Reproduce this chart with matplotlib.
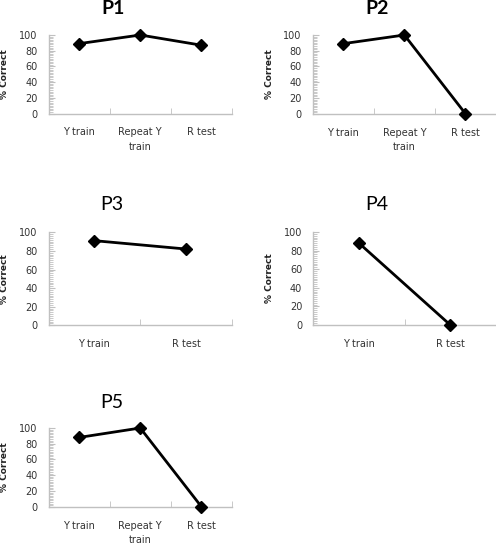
import matplotlib
matplotlib.use("Agg")
import matplotlib.pyplot as plt
from matplotlib.ticker import MultipleLocator, FixedLocator

# Data
cats3 = ["Y train", "Repeat Y\ntrain", "R test"]
cats2 = ["Y train", "R test"]
p1 = [89, 100, 87]
p2 = [89, 100, 0]
p3 = [91, 82]
p4 = [88, 0]
p5 = [88, 100, 0]
titles = ["P1", "P2", "P3", "P4", "P5"]
title_weights = ["bold", "bold", "normal", "normal", "normal"]
ylabel = "% Correct"
yticks = [0, 20, 40, 60, 80, 100]

W, H = 496, 544
fig = plt.figure(figsize=(W / 100, H / 100), dpi=100)


def rect(l, r, t, b):
    return [l / W, 1 - b / H, (r - l) / W, (b - t) / H]


panels = [
    (p1, cats3, rect(48.5, 232, 35, 113.5), (113, 9), 5),
    (p2, cats3, rect(312.7, 496, 35, 113.7), (377, 9), 270),
    (p3, cats2, rect(48.5, 232, 232.3, 325.3), (112, 205), 5),
    (p4, cats2, rect(313.3, 496, 232, 325), (377, 205), 269),
    (p5, cats3, rect(48.5, 232, 428, 506.7), (112, 402), 5),
]

gray = "#c0c0c0"
for i, (vals, cats, r, tpos, ylx) in enumerate(panels):
    ax = fig.add_axes(r)
    x = list(range(len(cats)))
    ax.plot(x, vals, color="black", lw=2.0, marker="D", markersize=6,
            clip_on=False, zorder=5)
    ax.set_xlim(-0.5, len(cats) - 0.5)
    ax.set_ylim(0, 100)
    for s in ["top", "right"]:
        ax.spines[s].set_visible(False)
    for s in ["left", "bottom"]:
        ax.spines[s].set_color(gray)
        ax.spines[s].set_linewidth(1.0)
    ax.set_yticks(yticks)
    ax.set_yticklabels([str(v) for v in yticks], fontsize=7, color="#333333")
    ax.yaxis.set_minor_locator(MultipleLocator(2))
    ax.tick_params(axis="y", which="major", direction="in", length=4,
                   color=gray, pad=8)
    ax.tick_params(axis="y", which="minor", direction="in", length=3,
                   color=gray, width=0.6)
    ax.set_xticks(x)
    ax.set_xticklabels(cats, fontsize=7, color="#333333", linespacing=1.6)
    ax.xaxis.set_minor_locator(FixedLocator([k + 0.5 for k in x]))
    ax.tick_params(axis="x", which="major", length=0, pad=10)
    ax.tick_params(axis="x", which="minor", direction="in", length=4,
                   color=gray)
    fig.text(tpos[0] / W, 1 - tpos[1] / H, titles[i], fontsize=14,
             fontweight=title_weights[i], family="Lato",
             ha="center", va="center")
    cy = (r[1] + r[1] + r[3]) / 2
    fig.text(ylx / W, cy, ylabel, rotation=90, fontsize=6.5,
             fontweight="bold", ha="center", va="center", color="#222222")

fig.savefig("out.png", dpi=100)
